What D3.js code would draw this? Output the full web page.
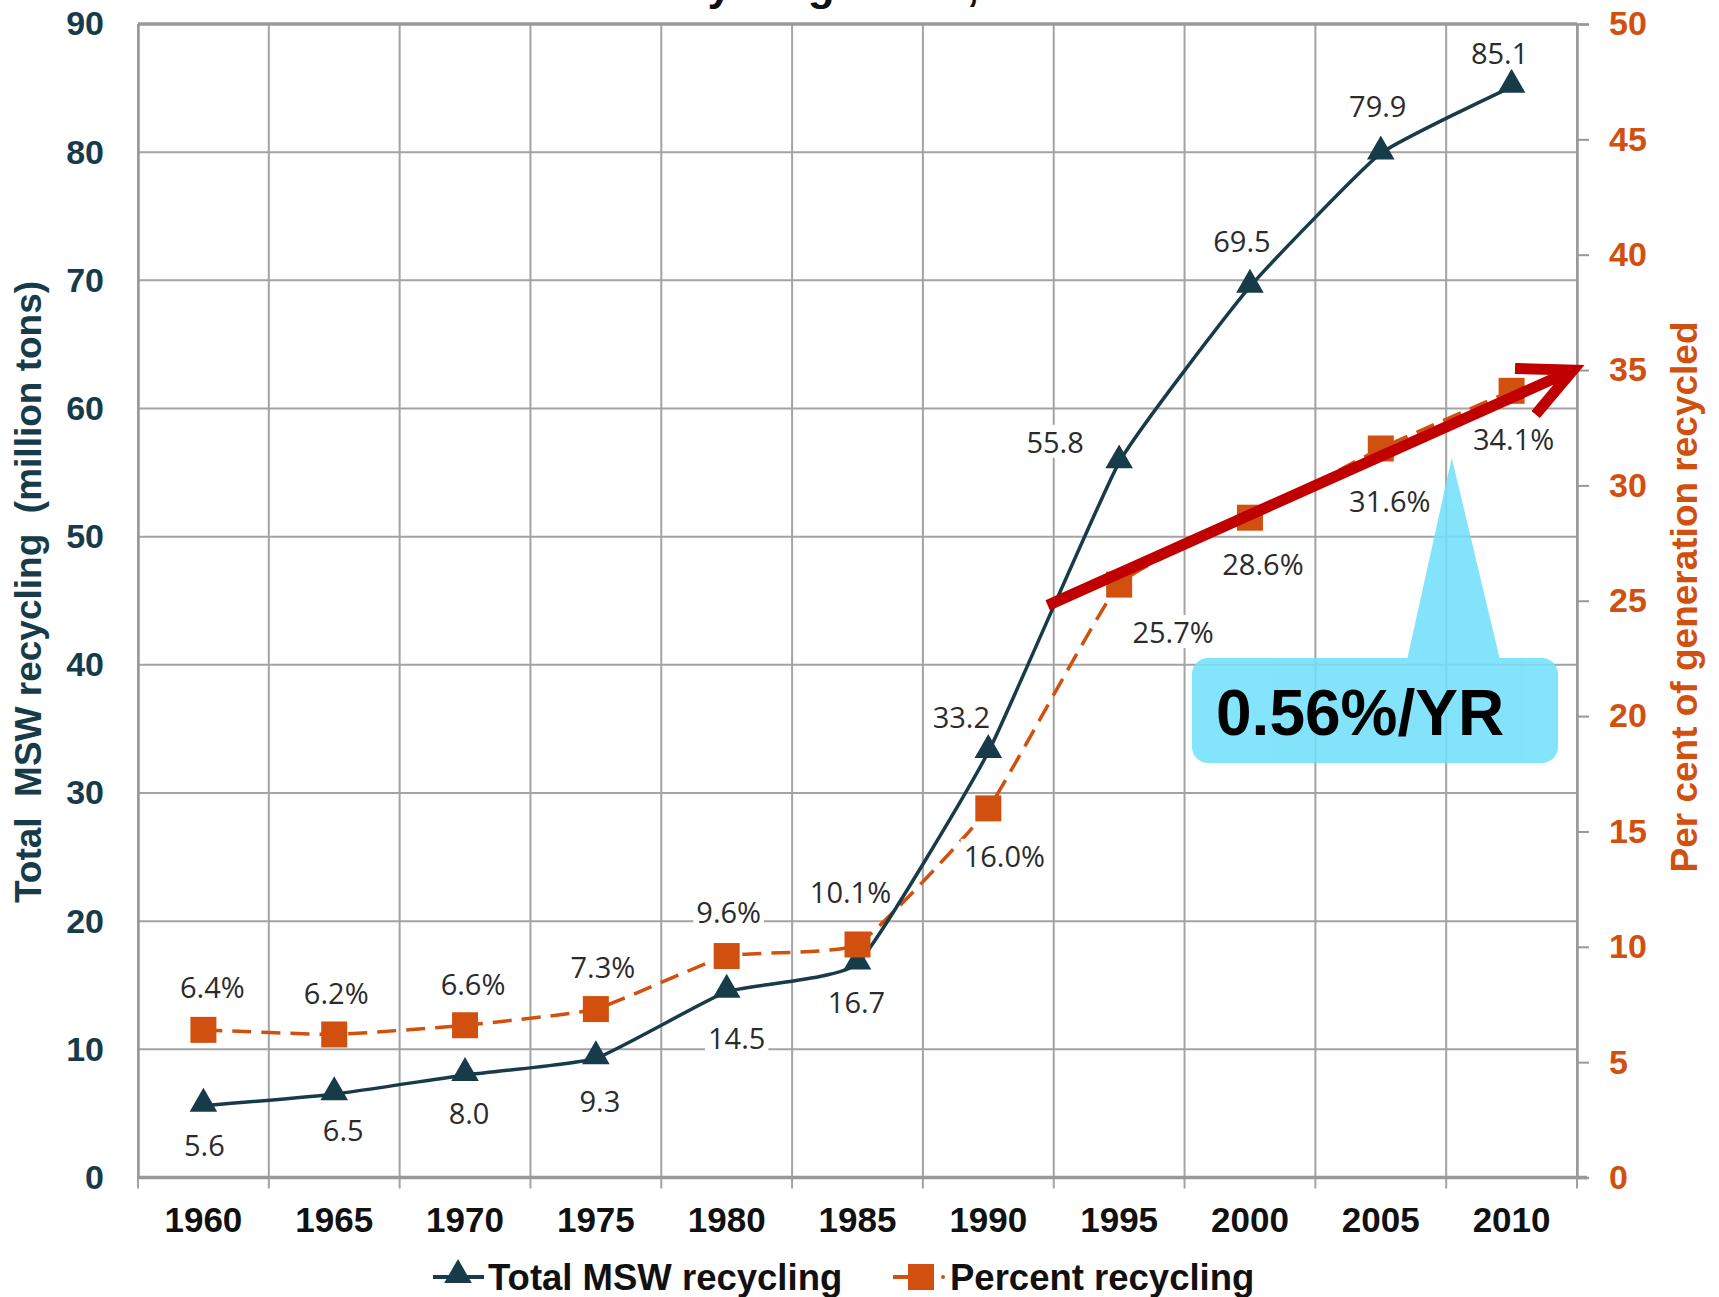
<!DOCTYPE html>
<html><head><meta charset="utf-8">
<script src="https://cdn.jsdelivr.net/npm/d3@7"></script>
<style>
html,body{margin:0;padding:0;background:#fff;}
svg{display:block;}
</style></head>
<body>
<script>
// ---- data ----
const years = ["1960","1965","1970","1975","1980","1985","1990","1995","2000","2005","2010"];
const totalMSW = [5.6, 6.5, 8.0, 9.3, 14.5, 16.7, 33.2, 55.8, 69.5, 79.9, 85.1];
const percentRecycled = [6.4, 6.2, 6.6, 7.3, 9.6, 10.1, 16.0, 25.7, 28.6, 31.6, 34.1];
const leftTicks = [0,10,20,30,40,50,60,70,80,90];
const rightTicks = [0,5,10,15,20,25,30,35,40,45,50];
const seriesNames = ["Total MSW recycling", "Percent recycling"];
const leftTitle = "Total  MSW recycling  (million tons)";
const rightTitle = "Per cent of generation recycled";
const chartTitle = "MSW Recycling Rates, 1960 to 2010";
const calloutText = "0.56%/YR";
const trendStart = 24.8, trendEnd = 35; // percent values for red trend arrow

// ---- layout (label offsets, px) ----
const totalLabelOff = [[1,39],[9,35],[4,38],[4,42],[10,46],[-1,38],[-27,-35],[-64,-21],[-8,-46],[-3,-48],[-12,-34]];
const pctLabelOff = [[9,-43],[2,-42],[8,-42],[7,-43],[2,-45],[-7,-53],[16,47],[54,47],[13,46],[9,52],[2,48]];

const W = 1719, H = 1297;
const m = {left:138, right:1577, top:24, bottom:1177.5};
const TEAL = "#173b49", ORANGE = "#d2500f", GRID = "#a3a3a3";

const svg = d3.select("body").append("svg").attr("width",W).attr("height",H)
  .style("font-family","'Liberation Sans',Arial,sans-serif");

const x = d3.scaleBand().domain(years).range([m.left,m.right]).padding(0);
const yL = d3.scaleLinear().domain([0,90]).range([m.bottom,m.top]);
const yR = d3.scaleLinear().domain([0,50]).range([m.bottom,m.top]);
const cx = d => x(d) + x.bandwidth()/2;

// title (cut off at top, as in the source image)
svg.append("text").attr("x",880).attr("y",0).attr("text-anchor","middle")
  .style("font-size","44px").style("font-weight","bold").attr("fill","#111").text(chartTitle);

// gridlines
const g = svg.append("g");
g.selectAll("line.h").data(leftTicks).join("line")
  .attr("x1",m.left).attr("x2",m.right).attr("y1",d=>yL(d)).attr("y2",d=>yL(d))
  .attr("stroke",GRID).attr("stroke-width",2);
const bounds = years.map(d=>x(d)).concat([m.right]);
g.selectAll("line.v").data(bounds).join("line")
  .attr("x1",d=>d).attr("x2",d=>d).attr("y1",m.top).attr("y2",m.bottom+11)
  .attr("stroke",GRID).attr("stroke-width",2);
g.append("line").attr("x1",m.left).attr("x2",m.right).attr("y1",m.top).attr("y2",m.top).attr("stroke","#999").attr("stroke-width",3.5);
g.append("line").attr("x1",m.left).attr("x2",m.right+10).attr("y1",m.bottom).attr("y2",m.bottom).attr("stroke","#999").attr("stroke-width",3.5);

// right axis
const rAxis = svg.append("g").attr("transform",`translate(${m.right},0)`)
  .call(d3.axisRight(yR).tickValues(rightTicks).tickSize(12).tickPadding(20));
rAxis.select(".domain").attr("stroke","#999").attr("stroke-width",2.5);
rAxis.selectAll(".tick line").attr("stroke","#999").attr("stroke-width",2);
rAxis.selectAll("text").attr("fill",ORANGE).style("font-size","34px").style("font-weight","bold")
  .style("font-family","'Liberation Sans',Arial,sans-serif");

// left axis
const lAxis = svg.append("g").attr("transform",`translate(${m.left},0)`)
  .call(d3.axisLeft(yL).tickValues(leftTicks).tickSize(0).tickPadding(34));
lAxis.select(".domain").attr("stroke","#999").attr("stroke-width",2.5);
lAxis.selectAll("text").attr("fill",TEAL).style("font-size","34px").style("font-weight","bold")
  .style("font-family","'Liberation Sans',Arial,sans-serif");

// bottom axis labels
const bAxis = svg.append("g").attr("transform",`translate(0,${m.bottom})`)
  .call(d3.axisBottom(x).tickSize(0).tickPadding(30));
bAxis.select(".domain").remove();
bAxis.selectAll("text").attr("fill","#111").style("font-size","35px").style("font-weight","bold")
  .style("font-family","'Liberation Sans',Arial,sans-serif");

// axis titles
svg.append("text").attr("transform",`translate(41,592) rotate(-90)`).attr("text-anchor","middle")
  .attr("fill",TEAL).style("font-size","37px").style("font-weight","bold")
  .style("white-space","pre").text(leftTitle);
svg.append("text").attr("transform",`translate(1697,597) rotate(-90)`).attr("text-anchor","middle")
  .attr("fill",ORANGE).style("font-size","37px").style("font-weight","bold").text(rightTitle);

// lines (lightly smoothed)
const curve = d3.curveCardinal.tension(0.6);
const lineT = d3.line().x((d,i)=>cx(years[i])).y(d=>yL(d)).curve(curve);
const lineP = d3.line().x((d,i)=>cx(years[i])).y(d=>yR(d)).curve(curve);
svg.append("path").attr("d",lineP(percentRecycled)).attr("fill","none").attr("stroke",ORANGE)
  .attr("stroke-width",3.5).attr("stroke-dasharray","19 10");
svg.append("path").attr("d",lineT(totalMSW)).attr("fill","none").attr("stroke",TEAL).attr("stroke-width",3.5);

// markers
const tri = d3.symbol().type(d3.symbolTriangle).size(330);
svg.selectAll("path.tri").data(totalMSW).join("path")
  .attr("transform",(d,i)=>`translate(${cx(years[i])},${yL(d)-2})`).attr("d",tri()).attr("fill",TEAL);
svg.selectAll("rect.sq").data(percentRecycled).join("rect")
  .attr("x",(d,i)=>cx(years[i])-13).attr("y",d=>yR(d)-13).attr("width",26).attr("height",26).attr("fill",ORANGE);

// data labels with white background
function addLabels(vals, scale, offs, fmt){
  const lg = svg.append("g");
  vals.forEach((v,i)=>{
    const px = cx(years[i]) + offs[i][0], py = scale(v) + offs[i][1];
    const grp = lg.append("g");
    const t = grp.append("text").attr("x",px).attr("y",py).attr("text-anchor","middle")
      .attr("dominant-baseline","central").attr("fill","#2b2b2b")
      .style("font-family","'Open Sans',sans-serif").style("font-size","29px").text(fmt(v));
    const bb = t.node().getBBox();
    grp.insert("rect","text").attr("x",bb.x-3).attr("y",bb.y+3).attr("width",bb.width+6).attr("height",bb.height-6).attr("fill","#fff");
  });
}
addLabels(totalMSW, yL, totalLabelOff, v=>v.toFixed(1));
addLabels(percentRecycled, yR, pctLabelOff, v=>v.toFixed(1)+"%");

// callout
const cg = svg.append("g").attr("opacity",0.88);
const bx0 = 1192, bx1 = 1558, by0 = 658, by1 = 763;
cg.append("rect").attr("x",bx0).attr("y",by0).attr("width",bx1-bx0).attr("height",by1-by0).attr("rx",16).attr("fill","#72e0fb");
cg.append("path").attr("d",`M1407,${by0+2} L${cx("2005")+65+6},${yR(31.2)} L1500,${by0+2} Z`).attr("fill","#72e0fb");
svg.append("text").attr("x",1216).attr("y",735).attr("fill","#000").style("font-size","64px").style("font-weight","bold").text(calloutText);

// red trend arrow
const ax0 = x("1995") - 6, ay0 = yR(trendStart);
const ax1 = m.right - 4, ay1 = yR(trendEnd);
const ang = Math.atan2(ay1-ay0, ax1-ax0);
const L = 58;
const a1 = ang + Math.PI - 0.45, a2 = ang + Math.PI + 0.45;
svg.append("path")
  .attr("d",`M${ax0},${ay0} L${ax1},${ay1} M${ax1+L*Math.cos(a1)},${ay1+L*Math.sin(a1)} L${ax1},${ay1} L${ax1+L*Math.cos(a2)},${ay1+L*Math.sin(a2)}`)
  .attr("fill","none").attr("stroke","#c00000").attr("stroke-width",11).attr("stroke-linejoin","miter").attr("stroke-linecap","butt");

// legend
const ly = 1277;
const lgd = svg.append("g");
lgd.append("line").attr("x1",433).attr("x2",484).attr("y1",ly).attr("y2",ly).attr("stroke",TEAL).attr("stroke-width",4);
lgd.append("path").attr("transform",`translate(458,${ly-2})`).attr("d",tri()).attr("fill",TEAL);
lgd.append("text").attr("x",488).attr("y",ly).attr("dominant-baseline","central").attr("fill","#111")
  .style("font-size","36.5px").style("font-weight","bold").text(seriesNames[0]);
lgd.append("line").attr("x1",893).attr("x2",910).attr("y1",ly).attr("y2",ly).attr("stroke",ORANGE).attr("stroke-width",4);
lgd.append("rect").attr("x",908).attr("y",ly-13).attr("width",26).attr("height",26).attr("fill",ORANGE);
lgd.append("circle").attr("cx",943).attr("cy",ly).attr("r",2).attr("fill",ORANGE);
lgd.append("text").attr("x",950).attr("y",ly).attr("dominant-baseline","central").attr("fill","#111")
  .style("font-size","36.5px").style("font-weight","bold").text(seriesNames[1]);
</script>
</body></html>
